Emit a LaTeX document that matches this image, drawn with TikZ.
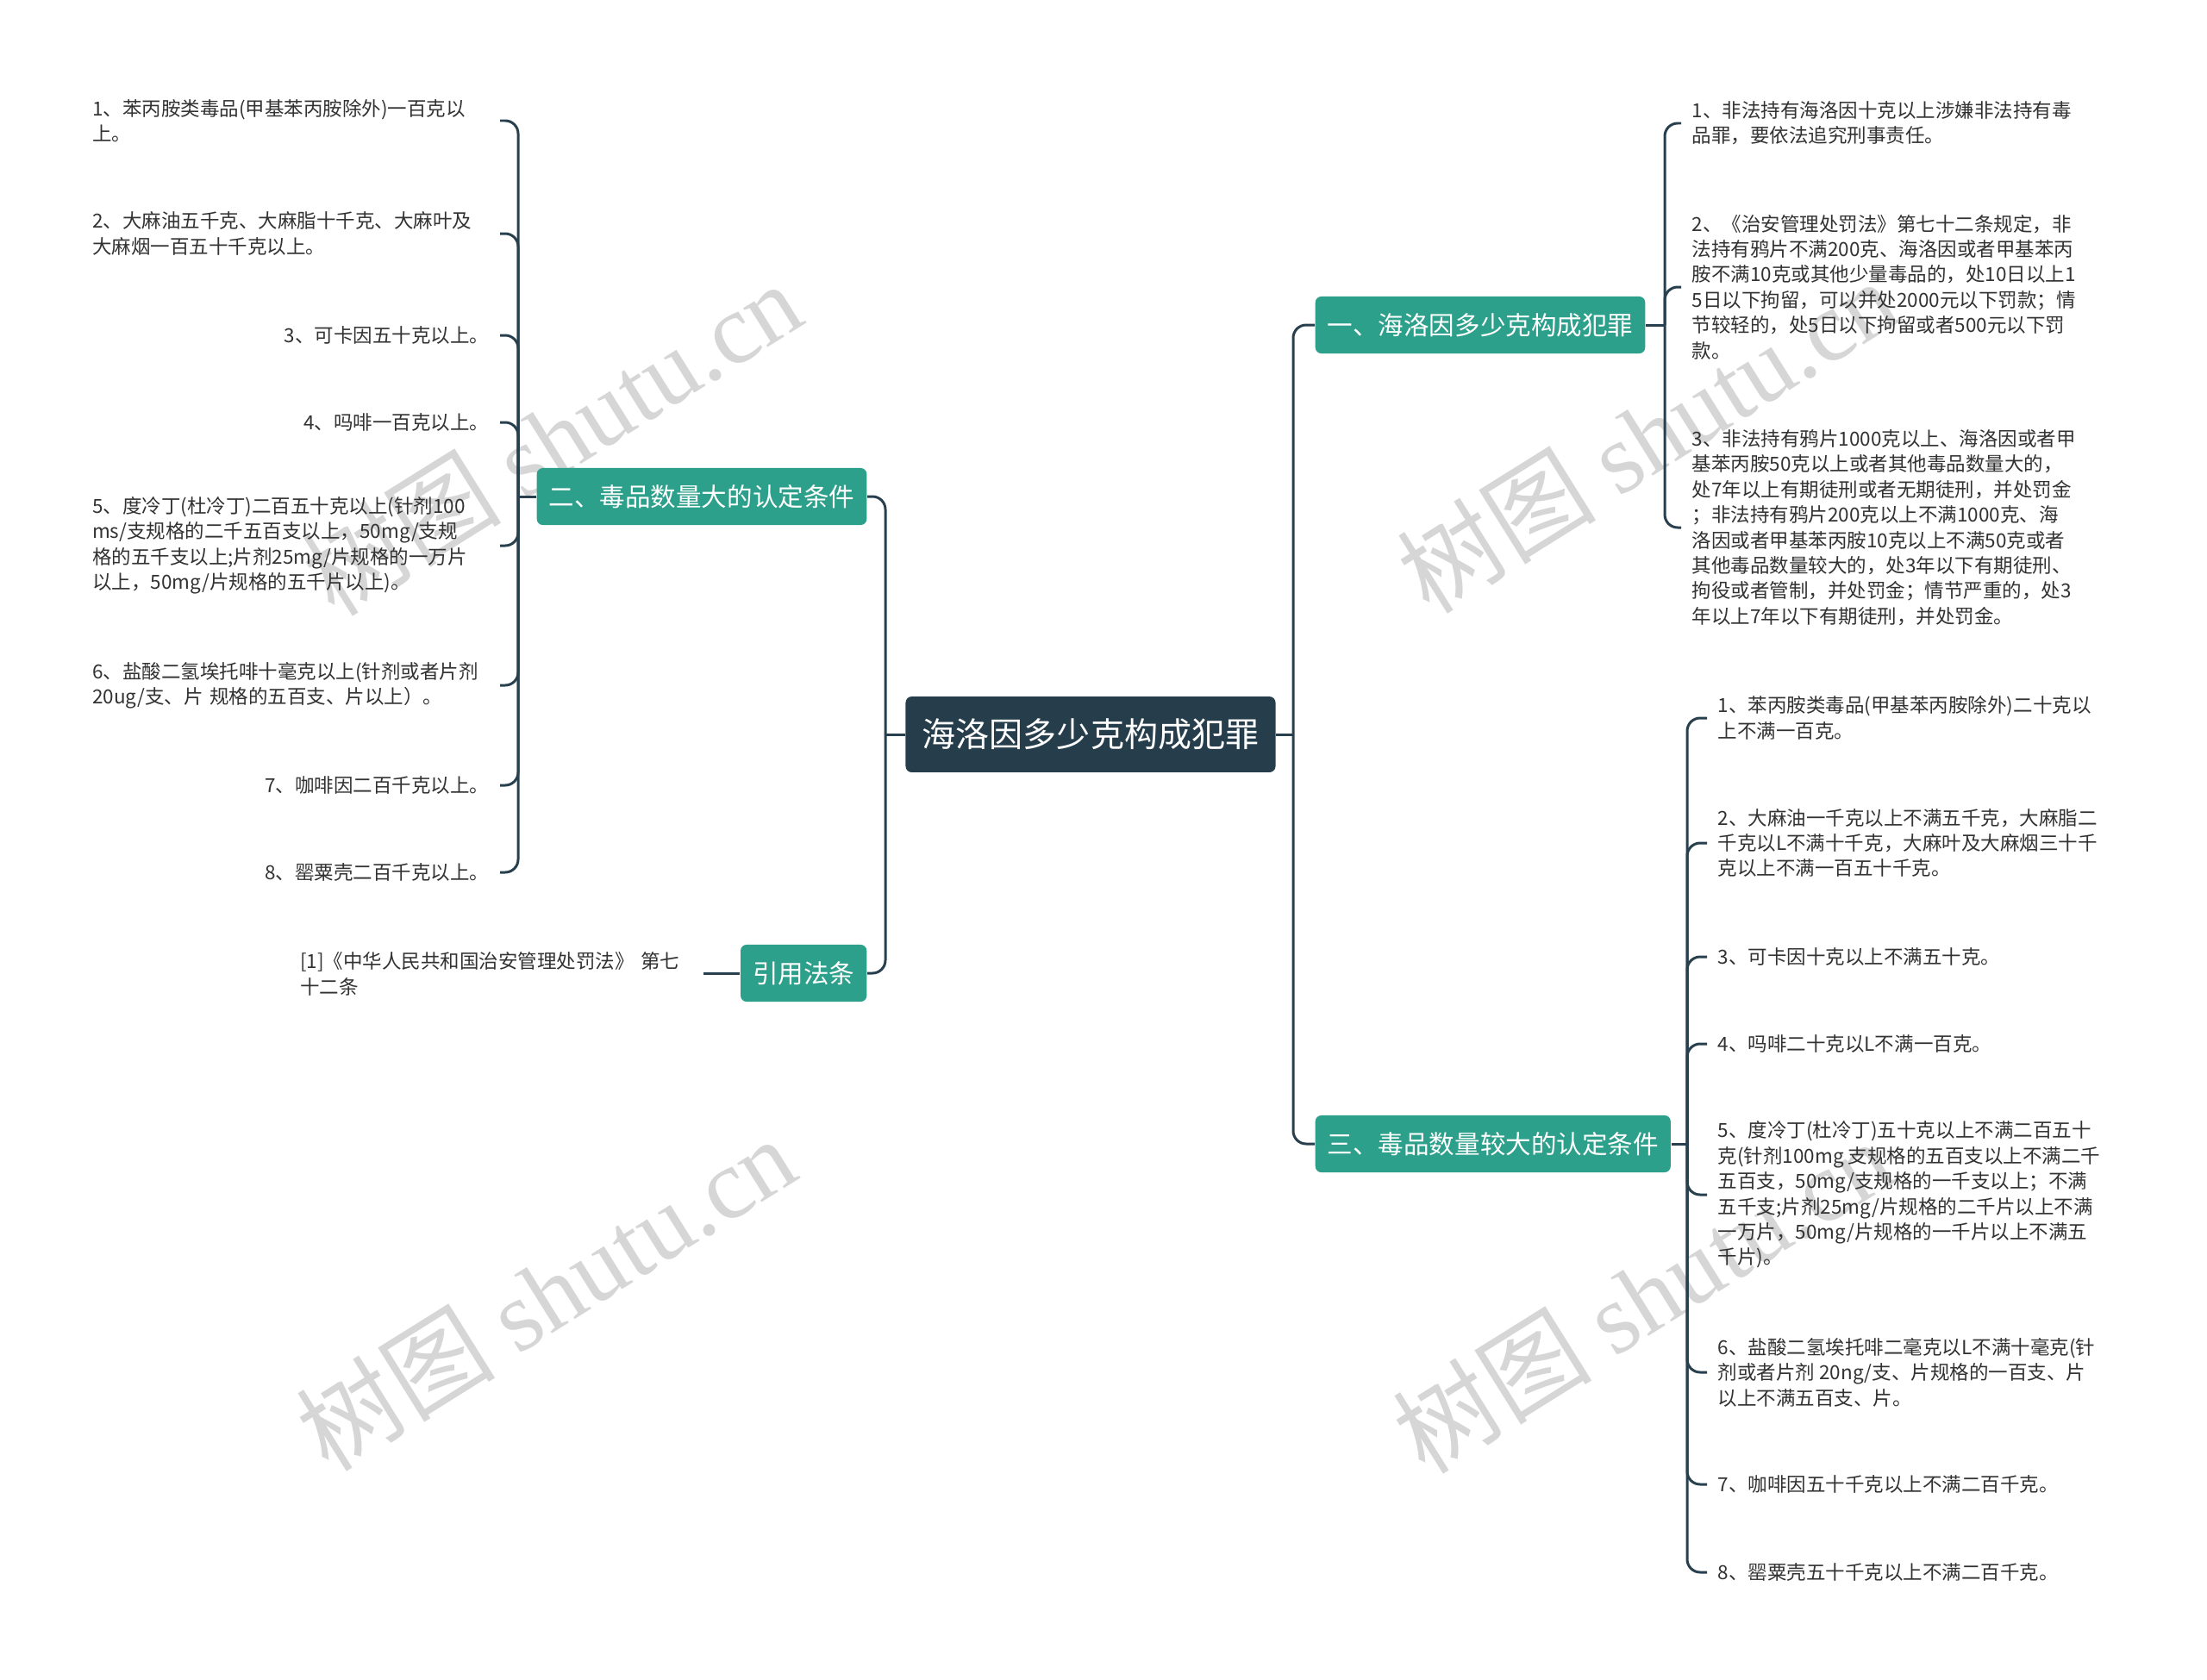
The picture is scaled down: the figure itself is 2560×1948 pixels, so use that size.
\documentclass[tikz,border=0pt]{standalone}
\usepackage{fontspec}
\usepackage{xcolor}
\usepackage{tikz}
\usetikzlibrary{positioning,calc}
\setmainfont{Noto Sans CJK SC}
\newfontfamily\wmfont{Liberation Serif}
\definecolor{mapDark}{RGB}{38,62,76}
\definecolor{mapTeal}{RGB}{45,160,139}
\definecolor{mapLine}{RGB}{40,64,78}
\definecolor{mapText}{RGB}{50,50,50}

\begin{document}
\begin{tikzpicture}[x=0.01cm,y=-0.01cm,
    hub/.style={fill=mapDark, text=white, rounded corners=2pt, font=\fontsize{11.1}{13}\selectfont, minimum height=25pt, inner xsep=5.5pt},
    branch/.style={fill=mapTeal, text=white, rounded corners=2pt, font=\fontsize{8.4}{10}\selectfont, minimum height=18.8pt, inner xsep=4pt},
    leaf/.style={text=mapText, font=\fontsize{6.4}{8.37}\selectfont, inner xsep=0.12cm, inner ysep=0pt},
    leafL/.style={leaf, anchor=east, text width=4.6cm, align=left},
    leafLr/.style={leafL, align=right},
    leafR/.style={leaf, anchor=west, align=left},
    link/.style={draw=mapLine, line width=0.85pt, rounded corners=0.15cm},
    wmark/.style={text=black!16, rotate=32, font=\fontsize{33}{33}\selectfont}]
    % Page
    \useasboundingbox (0,0) rectangle (2560,1948);

    % Watermarks
    \node[wmark] (wm1) at (640,508) {树图 {\wmfont shutu.cn}};
    \node[wmark] (wm2) at (1910,505) {树图 {\wmfont shutu.cn}};
    \node[wmark] (wm3) at (633,1500) {树图 {\wmfont shutu.cn}};
    \node[wmark] (wm4) at (1905,1503) {树图 {\wmfont shutu.cn}};

    % Center and branches
    \node[hub] (hub) at (1265,852) {海洛因多少克构成犯罪};
    \node[branch, anchor=west] (b1) at (1525,377) {一、海洛因多少克构成犯罪};
    \node[branch, anchor=east] (b2) at (1006,576) {二、毒品数量大的认定条件};
    \node[branch, anchor=west] (b3) at (1525,1327) {三、毒品数量较大的认定条件};
    \node[branch, anchor=east] (b4) at (1006,1129) {引用法条};

    % Trunk lines
    \coordinate (tL) at (1027,0);
    \coordinate (tR) at (1500,0);
    \coordinate (t1) at (1931,0);
    \coordinate (t2) at (601,0);
    \coordinate (t3) at (1957,0);

    % Branch one
    \node[leafR] (r1) at (1950,143) {1、非法持有海洛因十克以上涉嫌非法持有毒\\品罪，要依法追究刑事责任。};
    \node[leafR] (r2) at (1950,333) {2、《治安管理处罚法》第七十二条规定，非\\法持有鸦片不满200克、海洛因或者甲基苯丙\\胺不满10克或其他少量毒品的，处10日以上1\\5日以下拘留，可以并处2000元以下罚款；情\\节较轻的，处5日以下拘留或者500元以下罚\\款。};
    \node[leafR] (r3) at (1950,612) {3、非法持有鸦片1000克以上、海洛因或者甲\\基苯丙胺50克以上或者其他毒品数量大的，\\处7年以上有期徒刑或者无期徒刑，并处罚金\\；非法持有鸦片200克以上不满1000克、海\\洛因或者甲基苯丙胺10克以上不满50克或者\\其他毒品数量较大的，处3年以下有期徒刑、\\拘役或者管制，并处罚金；情节严重的，处3\\年以上7年以下有期徒刑，并处罚金。};

    % Branch two
    \node[leafL] (l1) at (580,140) {1、苯丙胺类毒品(甲基苯丙胺除外)一百克以\\上。};
    \node[leafL] (l2) at (580,271) {2、大麻油五千克、大麻脂十千克、大麻叶及\\大麻烟一百五十千克以上。};
    \node[leafLr] (l3) at (580,389) {3、可卡因五十克以上。};
    \node[leafLr] (l4) at (580,490) {4、吗啡一百克以上。};
    \node[leafL] (l5) at (580,633) {5、度冷丁(杜冷丁)二百五十克以上(针剂100\\ms/支规格的二千五百支以上，50mg/支规\\格的五千支以上;片剂25mg/片规格的一万片\\以上，50mg/片规格的五千片以上)。};
    \node[leafL] (l6) at (580,795) {6、盐酸二氢埃托啡十毫克以上(针剂或者片剂\\20ug/支、片 规格的五百支、片以上）。};
    \node[leafLr] (l7) at (580,911) {7、咖啡因二百千克以上。};
    \node[leafLr] (l8) at (580,1012) {8、罂粟壳二百千克以上。};

    % Branch three
    \node[leafR] (s1) at (1980,833) {1、苯丙胺类毒品(甲基苯丙胺除外)二十克以\\上不满一百克。};
    \node[leafR] (s2) at (1980,978) {2、大麻油一千克以上不满五千克，大麻脂二\\千克以L不满十千克，大麻叶及大麻烟三十千\\克以上不满一百五十千克。};
    \node[leafR] (s3) at (1980,1110) {3、可卡因十克以上不满五十克。};
    \node[leafR] (s4) at (1980,1211) {4、吗啡二十克以L不满一百克。};
    \node[leafR] (s5) at (1980,1386) {5、度冷丁(杜冷丁)五十克以上不满二百五十\\克(针剂100mg 支规格的五百支以上不满二千\\五百支，50mg/支规格的一千支以上；不满\\五千支;片剂25mg/片规格的二千片以上不满\\一万片，50mg/片规格的一千片以上不满五\\千片)。};
    \node[leafR] (s6) at (1980,1592) {6、盐酸二氢埃托啡二毫克以L不满十毫克(针\\剂或者片剂 20ng/支、片规格的一百支、片\\以上不满五百支、片。};
    \node[leafR] (s7) at (1980,1722) {7、咖啡因五十千克以上不满二百千克。};
    \node[leafR] (s8) at (1980,1824) {8、罂粟壳五十千克以上不满二百千克。};

    % Cited law
    \node[leaf, anchor=east, text width=4.55cm, align=left] (ref) at (816,1130) {[1]《中华人民共和国治安管理处罚法》~第七\\十二条};

    % Connectors from the center
    \draw[link] (hub.east) -- (tR |- hub.east);
    \foreach \c in {b1,b3}
        \draw[link] (tR |- hub.east) -- (tR |- \c.west) -- (\c.west);
    \draw[link] (hub.west) -- (tL |- hub.west);
    \foreach \c in {b2,b4}
        \draw[link] (tL |- hub.west) -- (tL |- \c.east) -- (\c.east);

    % Connectors to the leaves
    \draw[link] (b1.east) -- (t1 |- b1.east);
    \foreach \c in {r1,r2,r3}
        \draw[link] (t1 |- b1.east) -- (t1 |- \c.west) -- (\c.west);
    \draw[link] (b2.west) -- (t2 |- b2.west);
    \foreach \c in {l1,l2,l3,l4,l5,l6,l7,l8}
        \draw[link] (t2 |- b2.west) -- (t2 |- \c.east) -- (\c.east);
    \draw[link] (b3.east) -- (t3 |- b3.east);
    \foreach \c in {s1,s2,s3,s4,s5,s6,s7,s8}
        \draw[link] (t3 |- b3.east) -- (t3 |- \c.west) -- (\c.west);
    \draw[link] (b4.west) -- (b4.west -| ref.east);

\end{tikzpicture}
\end{document}
